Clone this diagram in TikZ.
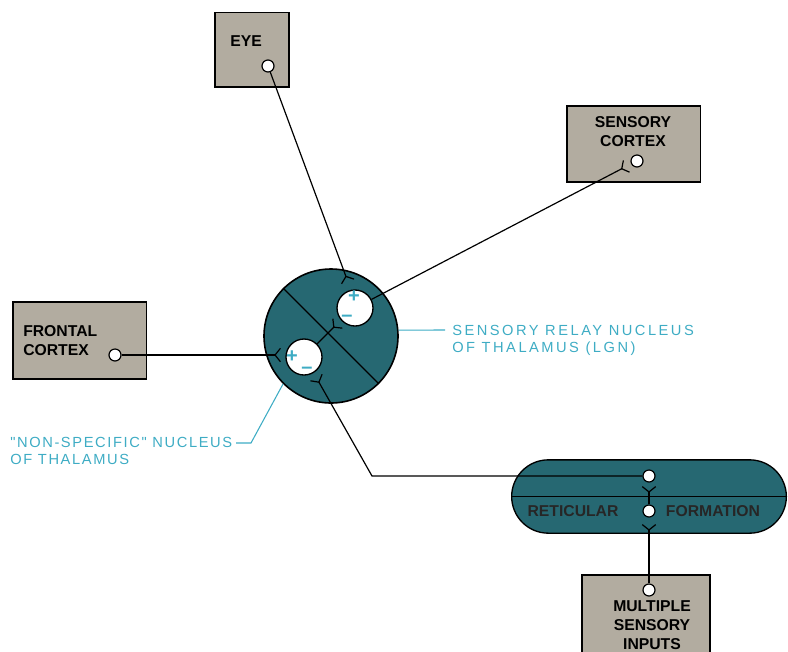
\documentclass[tikz,border=0pt]{standalone}
\usepackage{fontspec}
\setmainfont{Liberation Sans}
\newfontfamily\lblfont[LetterSpace=11]{Liberation Sans}
\newfontfamily\lblfontw[LetterSpace=17]{Liberation Sans}
\usetikzlibrary{arrows.meta,shapes.misc}
\definecolor{thalteal}{RGB}{38,104,114}
\definecolor{boxgray}{RGB}{178,172,160}
\definecolor{lblcyan}{RGB}{62,172,196}
\begin{document}
\begin{tikzpicture}[x=0.75pt,y=-0.75pt,
  box/.style={draw,line width=1pt,fill=boxgray,inner sep=0},
  dot/.style={circle,draw,line width=0.9pt,fill=white,inner sep=0,minimum size=9pt},
  txt/.style={font=\bfseries\fontsize{11.8}{14.25}\selectfont,align=center,inner sep=0},
  cy/.style={text=lblcyan,font=\lblfont\fontsize{11}{12.75}\selectfont,align=left,anchor=west,inner sep=0},
  syn/.style={line width=0.9pt,-{Straight Barb[reversed,length=4pt,width=10pt]}},
  sgn/.style={text=lblcyan,font=\bfseries\fontsize{15}{15}\selectfont,inner sep=0}
]
\useasboundingbox (0,0) rectangle (788,651);

% Boxes
\node[box,minimum width=55.5pt,minimum height=56pt] (eye) at (252,49.5) {};
\node[txt] (eyeT) at (246,41) {EYE};
\node[dot] (eyeD) at (268,66) {};

\node[box,minimum width=100pt,minimum height=57pt] (sens) at (633.5,144) {};
\node[txt] (sensT) at (633,132) {SENSORY\\CORTEX};
\node[dot] (sensD) at (637,161) {};

\node[box,minimum width=100pt,minimum height=57.75pt] (front) at (79.5,340.5) {};
\node[txt,align=left,anchor=west] (frontT) at (23,341) {FRONTAL\\CORTEX};
\node[dot] (frontD) at (115,355) {};

\node[box,minimum width=96pt,minimum height=97.5pt] (multi) at (646,640) {};
\node[txt,anchor=north] (multiT) at (652,600) {MULTIPLE\\SENSORY\\INPUTS};
\node[dot] (multiD) at (649,590) {};

% Thalamus
\node[circle,draw,line width=1.2pt,fill=thalteal,minimum size=100.5pt,inner sep=0] (thal) at (331,336) {};
\draw[line width=1pt] (thal.135) -- (thal.-45);
\node[circle,draw,line width=1pt,fill=white,minimum size=27pt,inner sep=0] (up) at (355,308) {};
\node[circle,draw,line width=1pt,fill=white,minimum size=27pt,inner sep=0] (lo) at (304,357) {};
\node[sgn] (upP) at (354,297) {+};
\node[sgn] (upM) at (347,318) {--};
\node[sgn] (loP) at (292,357) {+};
\node[sgn] (loM) at (307,370) {--};

% Reticular formation
\node[rounded rectangle,draw,line width=1pt,fill=thalteal,minimum width=206pt,minimum height=55pt,inner sep=0] (ret) at (649,496.5) {};
\draw[line width=1pt] (ret.west) -- (ret.east);
\node[txt,text=black!85] (retT1) at (573,511) {RETICULAR};
\node[txt,text=black!85] (retT2) at (713,511) {FORMATION};
\node[dot] (retA) at (649,476) {};
\node[dot] (retB) at (649,511) {};

% Connectors
\coordinate (eyeEnd) at (348,282);
\coordinate (sensEnd) at (627,166);
\coordinate (frontEnd) at (281,355);
\coordinate (upEnd) at (338,323);
\coordinate (bend) at (372,476);
\coordinate (loEnd) at (316,377);
\coordinate (retEnd) at (649,486);
\coordinate (multiEnd) at (649,524);
\draw[syn] (eyeD) -- (eyeEnd);
\draw[syn] (up) -- (sensEnd);
\draw[syn] (frontD) -- (frontEnd);
\draw[syn] (lo) -- (upEnd);
\draw[syn] (retA) -- (bend) -- (loEnd);
\draw[syn] (retB) -- (retEnd);
\draw[syn] (multiD) -- (multiEnd);

% Labels
\coordinate (relEnd) at (445,330);
\draw[lblcyan,line width=0.8pt] (thal.5) -- (relEnd);
\node[cy,font=\lblfontw\fontsize{11}{12.75}\selectfont] (relT) at (452,340) {SENSORY RELAY NUCLEUS\\OF THALAMUS (LGN)};
\coordinate (nsA) at (236,443);
\coordinate (nsB) at (251,443);
\draw[lblcyan,line width=0.8pt] (nsA) -- (nsB) -- (thal.225);
\node[cy] (nsT) at (10,451) {"NON-SPECIFIC" NUCLEUS\\OF THALAMUS};
\end{tikzpicture}
\end{document}
